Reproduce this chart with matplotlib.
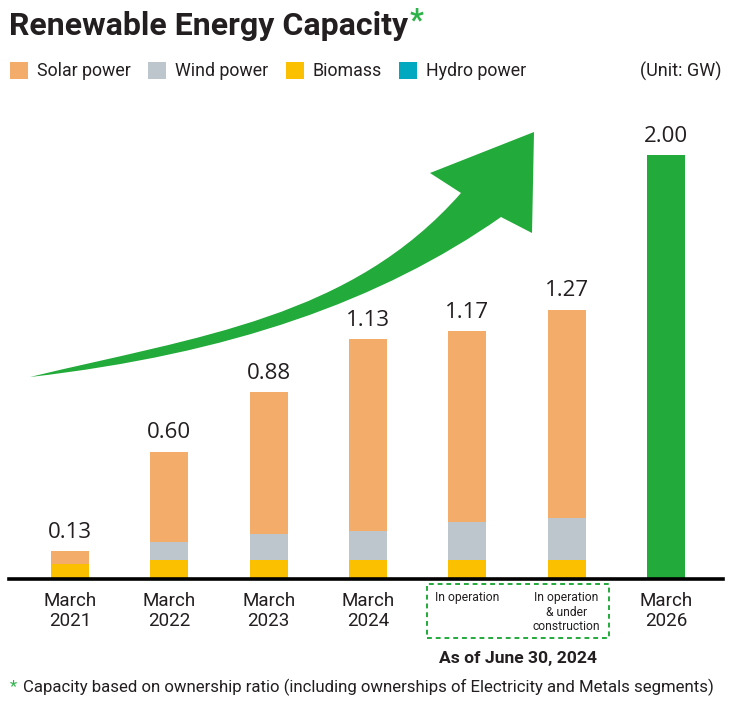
import matplotlib.pyplot as plt
import numpy as np
from matplotlib.path import Path
from matplotlib.patches import PathPatch, Rectangle

categories = ['March\n2021', 'March\n2022', 'March\n2023', 'March\n2024',
              'In operation', 'In operation\n& under\nconstruction', 'March\n2026']
biomass = [0.07, 0.09, 0.09, 0.09, 0.09, 0.09, 0.0]
hydro = [0.0, 0.0, 0.0, 0.0, 0.0, 0.0, 0.0]
wind = [0.0, 0.085, 0.12, 0.135, 0.18, 0.20, 0.0]
solar = [0.06, 0.425, 0.67, 0.905, 0.90, 0.98, 0.0]
target = [0, 0, 0, 0, 0, 0, 2.00]
totals = [0.13, 0.60, 0.88, 1.13, 1.17, 1.27, 2.00]

SOLAR = '#F4AC6B'
WIND = '#BCC6CC'
BIOMASS = '#FBC100'
HYDRO = '#00A9BF'
GREEN = '#22AA3A'
DARK = '#231F20'

plt.rcParams['font.family'] = ['Roboto', 'DejaVu Sans']

W, H = 733, 704
fig = plt.figure(figsize=(W / 100, H / 100), dpi=100)


def px(x, y):
    return (x / W, 1 - y / H)


# axes: baseline at y=579px, spans x 9..723
ax = fig.add_axes([9 / W, 1 - 579 / H, 714 / W, (579 - 110) / H])
x = np.arange(len(categories))
bw = 0.38

b0 = np.array(biomass)
b1 = b0 + np.array(hydro)
b2 = b1 + np.array(wind)
ax.bar(x, biomass, bw, color=BIOMASS, label='Biomass')
ax.bar(x, hydro, bw, bottom=b0, color=HYDRO, label='Hydro power')
ax.bar(x, wind, bw, bottom=b1, color=WIND, label='Wind power')
ax.bar(x, solar, bw, bottom=b2, color=SOLAR, label='Solar power')
ax.bar(x, target, bw, color=GREEN)

for i, t in enumerate(totals):
    ax.annotate(f'{t:.2f}', (x[i], t), xytext=(0, 6), textcoords='offset points',
                ha='center', va='bottom', fontsize=16, color=DARK,
                family=['Open Sans', 'DejaVu Sans'])

ax.set_xlim(-0.614, 6.574)
ax.set_ylim(0, 2.212)
ax.set_yticks([])
ax.set_xticks(x, categories)
ax.tick_params(axis='x', length=0, pad=9, labelsize=13.5, labelcolor=DARK)
for i, lab in enumerate(ax.get_xticklabels()):
    lab.set_verticalalignment('top')
    if i in (4, 5):
        lab.set_fontsize(8.7)
        lab.set_linespacing(1.15)
for s in ['top', 'right', 'left']:
    ax.spines[s].set_visible(False)
ax.spines['bottom'].set_linewidth(2.6)
ax.spines['bottom'].set_color('black')

# legend
handles, labels = ax.get_legend_handles_labels()
order = ['Solar power', 'Wind power', 'Biomass', 'Hydro power']
hmap = dict(zip(labels, handles))
fig.legend([hmap[k] for k in order], order, loc='center left',
           bbox_to_anchor=(px(10, 71)), ncol=4, frameon=False,
           borderpad=0, borderaxespad=0,
           fontsize=12.8, handlelength=1.0, handleheight=1.1,
           handletextpad=0.5, columnspacing=1.0, labelcolor=DARK)
fig.text(*px(721, 71), '(Unit: GW)', ha='right', va='center',
         fontsize=13, color=DARK)

# title
t = fig.text(*px(9, 26), 'Renewable Energy Capacity', ha='left', va='center',
             fontsize=23, fontweight='bold', color=DARK)
fig.canvas.draw()
bb = t.get_window_extent()
fig.text(bb.x1 / W + 0.002, px(0, 20)[1], '*', ha='left', va='center',
         fontsize=22, fontweight='bold', color='#2DB34A')

# curved growth arrow
verts = [
    (30, 377),
    (200, 336), (351, 318), (461, 193),
    (430, 173),
    (534, 132),
    (532, 233),
    (501, 217),
    (381, 301), (230, 354), (30, 377),
]
codes = [Path.MOVETO,
         Path.CURVE4, Path.CURVE4, Path.CURVE4,
         Path.LINETO, Path.LINETO, Path.LINETO, Path.LINETO,
         Path.CURVE4, Path.CURVE4, Path.CURVE4]
path = Path([px(a, b) for a, b in verts], codes)
fig.add_artist(PathPatch(path, facecolor=GREEN, edgecolor='none',
                         transform=fig.transFigure))

# dashed box for June 2024
x0, y0 = px(427, 638)
x1, y1 = px(609, 584)
fig.add_artist(Rectangle((x0, y0), x1 - x0, y1 - y0, fill=False,
                         edgecolor=GREEN, linestyle=(0, (2.5, 2)),
                         linewidth=1.4, transform=fig.transFigure))
fig.text(*px(518, 658), 'As of June 30, 2024', ha='center', va='center',
         fontsize=12.6, fontweight='bold', color=DARK)

# footnote
fig.text(*px(10, 687), '*', ha='left', va='center', fontsize=12,
         color='#2DB34A')
fig.text(*px(23, 687),
         'Capacity based on ownership ratio (including ownerships of Electricity and Metals segments)',
         ha='left', va='center', fontsize=12.1, color=DARK)

fig.savefig('out.png', dpi=100)
